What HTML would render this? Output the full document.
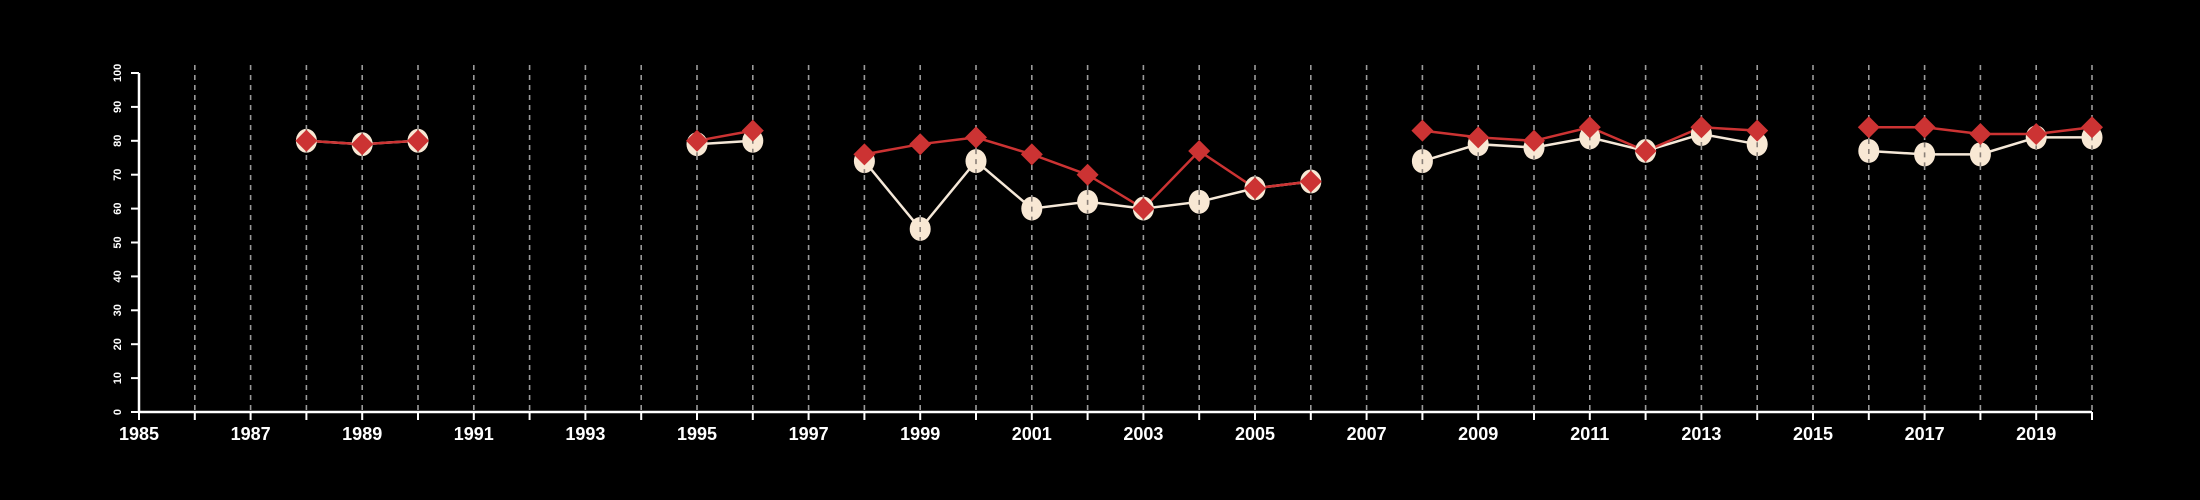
<!DOCTYPE html>
<html><head><meta charset="utf-8"><style>
html,body{margin:0;padding:0;background:#000;}
svg{display:block;font-family:"Liberation Sans",sans-serif;}
</style></head><body>
<svg id="chart" width="2200" height="500" viewBox="0 0 2200 500" xmlns="http://www.w3.org/2000/svg">
<rect width="2200" height="500" fill="#000"/>
<g id="grid"></g>
<g id="axes"></g>
<g id="series"></g>
</svg>
<script>
const years = [1988,1989,1990,1991,1992,1993,1994,1995,1996,1997,1998,1999,2000,2001,2002,2003,2004,2005,2006,2007,2008,2009,2010,2011,2012,2013,2014,2015,2016,2017,2018,2019,2020];
const creamValues = [80,79,80,null,null,null,null,79,80,null,74,54,74,60,62,60,62,66,68,null,74,79,78,81,77,82,79,null,77,76,76,81,81];
const redValues = [80,79,80,null,null,null,null,80,83,null,76,79,81,76,70,60,77,66,68,null,83,81,80,84,77,84,83,null,84,84,82,82,84];
const yTicks = [0,10,20,30,40,50,60,70,80,90,100];
const xLabelYears = [1985,1987,1989,1991,1993,1995,1997,1999,2001,2003,2005,2007,2009,2011,2013,2015,2017,2019];

const NS="http://www.w3.org/2000/svg";
const X0=139,X1=2092,Y0=412,Y1=73;
function xs(v){return X0+(v-1985)/(2020-1985)*(X1-X0);}
function ys(v){return Y0-(v/100)*(Y0-Y1);}
function mk(tag,attrs,parent){const e=document.createElementNS(NS,tag);for(const k in attrs)e.setAttribute(k,attrs[k]);parent.appendChild(e);return e;}
const grid=document.getElementById('grid'),axes=document.getElementById('axes'),series=document.getElementById('series');

for(let y=1986;y<=2020;y++){
  const l=mk('line',{x1:xs(y),x2:xs(y),y1:Y1-8,y2:Y0,stroke:'#9a9a9a','stroke-width':1.6,'stroke-dasharray':'5,5'},grid);
  
  
}
let a=mk('line',{x1:X0,x2:X1,y1:Y0,y2:Y0,stroke:'#fff','stroke-width':2.5},axes);


a=mk('line',{x1:X0,x2:X0,y1:Y1,y2:Y0,stroke:'#fff','stroke-width':2.5},axes);


for(let y=1985;y<=2020;y++){
  const t=mk('line',{x1:xs(y),x2:xs(y),y1:Y0,y2:Y0+8,stroke:'#fff','stroke-width':2},axes);
  
  
}
xLabelYears.forEach(y=>{
  const t=mk('text',{x:xs(y),y:Y0+28,fill:'#fff','font-size':18,'font-weight':'bold','text-anchor':'middle'},axes);
  t.textContent=y;
  
  
});
yTicks.forEach(v=>{
  const t=mk('line',{x1:X0-8,x2:X0,y1:ys(v),y2:ys(v),stroke:'#fff','stroke-width':2},axes);
  
  
  const lab=mk('text',{x:0,y:0,fill:'#fff','font-size':11,'font-weight':'bold','text-anchor':'middle',transform:'translate('+(X0-18)+','+ys(v)+') rotate(-90)'},axes);
  lab.textContent=v;
  
  
});
function drawLine(vals,color,name){
  let seg=[];
  const segs=[];
  vals.forEach((v,i)=>{if(v==null){if(seg.length)segs.push(seg);seg=[];}else seg.push([xs(years[i]),ys(v)]);});
  if(seg.length)segs.push(seg);
  segs.forEach(s=>{
    const p=mk('polyline',{points:s.map(q=>q.join(',')).join(' '),fill:'none',stroke:color,'stroke-width':2.5},series);
    
    
  });
}
drawLine(creamValues,'#f5e8d8','cream-series');
drawLine(redValues,'#cc3333','red-series');
creamValues.forEach((v,i)=>{
  if(v==null)return;
  const c=mk('ellipse',{cx:xs(years[i]),cy:ys(v),rx:10.5,ry:12,fill:'#f8e8d4'},series);
  
  
  const d=mk('line',{x1:xs(years[i]),x2:xs(years[i]),y1:ys(v)-12,y2:ys(v)+12,stroke:'#8a8078','stroke-width':1.6,'stroke-dasharray':'5,5'},series);
  
  
});
redValues.forEach((v,i)=>{
  if(v==null)return;
  const x=xs(years[i]),y=ys(v),s=11;
  const d=mk('polygon',{points:`${x},${y-s} ${x+s},${y} ${x},${y+s} ${x-s},${y}`,fill:'#cc3333'},series);
  
  
});
</script>
</body></html>
